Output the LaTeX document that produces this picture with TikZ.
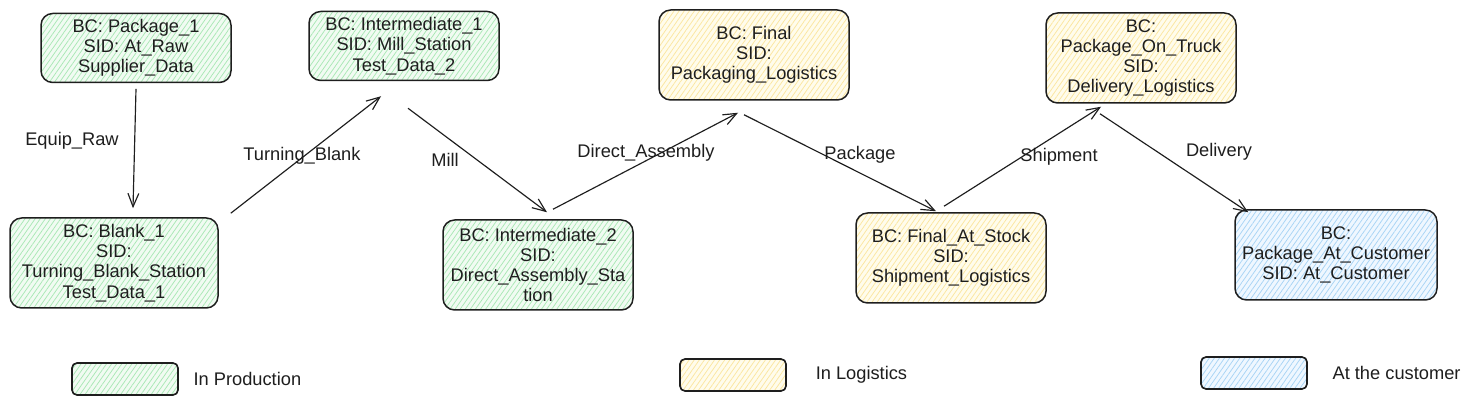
\documentclass[tikz,border=0pt]{standalone}
\usepackage{fontspec}
\setmainfont{Liberation Sans}
\usetikzlibrary{arrows.meta,patterns.meta,positioning}

\definecolor{ink}{HTML}{1E1E1E}
\definecolor{prodbg}{HTML}{F1FBF2}
\definecolor{prodline}{HTML}{A9E8B5}
\definecolor{logbg}{HTML}{FFFCEC}
\definecolor{logline}{HTML}{FBE6A0}
\definecolor{custbg}{HTML}{EFF7FF}
\definecolor{custline}{HTML}{A8D4F5}

\tikzset{
  stage/.style={draw=ink, line width=0.9bp, rounded corners=7bp, align=center,
    minimum width=114bp, minimum height=54bp, inner sep=2bp, text=ink,
    font=\fontsize{11}{12.2}\selectfont},
  hatch/.style 2 args={preaction={fill=#1},
    pattern={Lines[angle=55,distance=2.5bp,line width=0.45bp]}, pattern color=#2},
  prod/.style={hatch={prodbg}{prodline}},
  logi/.style={hatch={logbg}{logline}},
  cust/.style={hatch={custbg}{custline}},
  key/.style={draw=ink, line width=1bp, rounded corners=3bp,
    minimum width=63.6bp, minimum height=19.2bp},
  lbl/.style={text=ink, inner sep=1bp, font=\fontsize{11}{12.2}\selectfont},
}

\begin{document}
\begin{tikzpicture}[>={Straight Barb[length=8bp,width=6.5bp]},line join=round]
\pgfsetlinewidth{0.7bp}
\pgfsetcolor{ink}
\useasboundingbox (0bp,0bp) rectangle (879bp,244.2bp);

% Node: Package_1
\node[stage, prod, minimum height=41.4bp] (pkg1) at (81.6bp,215.4bp)
  {BC: Package\_1\\SID: At\_Raw\\Supplier\_Data};

% Node: Intermediate_1
\node[stage, prod, minimum height=41.4bp] (inter1) at (242.4bp,216.6bp)
  {BC: Intermediate\_1\\SID: Mill\_Station\\Test\_Data\_2};

% Node: Final
\node[stage, logi] (final) at (452.4bp,211.2bp)
  {BC: Final\\SID:\\Packaging\_Logistics};

% Node: Package_On_Truck
\node[stage, logi] (truck) at (684.6bp,209.4bp)
  {BC:\\Package\_On\_Truck\\SID:\\Delivery\_Logistics};

% Node: Blank_1
\node[stage, prod, minimum width=124.8bp] (blank1) at (68.4bp,86.4bp)
  {BC: Blank\_1\\SID:\\Turning\_Blank\_Station\\Test\_Data\_1};

% Node: Intermediate_2
\node[stage, prod] (inter2) at (322.8bp,85.2bp)
  {BC: Intermediate\_2\\SID:\\Direct\_Assembly\_Sta\\tion};

% Node: Final_At_Stock
\node[stage, logi] (stock) at (570.6bp,89.4bp)
  {BC: Final\_At\_Stock\\SID:\\Shipment\_Logistics};

% Node: Package_At_Customer
\node[stage, cust, minimum width=121.2bp] (atcust) at (801.6bp,91.2bp)
  {BC:\\Package\_At\_Customer\\SID: At\_Customer};

% Edge: Package_1 -> Blank_1
\draw[->] ([yshift=-3.6bp]pkg1.south) -- ([xshift=11.4bp,yshift=5.4bp]blank1.north);
\node[lbl] (lraw) at (43.2bp,159.6bp) {Equip\_Raw};

% Edge: Blank_1 -> Intermediate_1
\draw[->] ([xshift=7.2bp,yshift=2.4bp]blank1.north east) -- ([xshift=-13.8bp,yshift=-9bp]inter1.south);
\node[lbl] (lturn) at (181.2bp,150.6bp) {Turning\_Blank};

% Edge: Intermediate_1 -> Intermediate_2
\draw[->] ([xshift=2.4bp,yshift=-16.2bp]inter1.south) -- ([xshift=5.4bp,yshift=4.2bp]inter2.north);
\node[lbl] (lmill) at (267bp,148.2bp) {Mill};

% Edge: Intermediate_2 -> Final
\draw[->] ([xshift=9bp,yshift=6bp]inter2.north) -- ([xshift=-9.6bp,yshift=-7.2bp]final.south);
\node[lbl] (ldirect) at (387.6bp,152.4bp) {Direct\_Assembly};

% Edge: Final -> Final_At_Stock
\draw[->] ([xshift=-6bp,yshift=-8.4bp]final.south) -- ([xshift=-9bp,yshift=0.6bp]stock.north);
\node[lbl] (lpack) at (516bp,151.2bp) {Package};

% Edge: Final_At_Stock -> Package_On_Truck
\draw[->] ([xshift=-4.2bp,yshift=3.6bp]stock.north) -- ([xshift=-24bp,yshift=-1.8bp]truck.south);
\node[lbl] (lship) at (635.4bp,150bp) {Shipment};

% Edge: Package_On_Truck -> Package_At_Customer
\draw[->] ([xshift=-24.6bp,yshift=-6bp]truck.south) -- ([xshift=8.4bp,yshift=-1.8bp]atcust.north west);
\node[lbl] (ldeliv) at (731.4bp,153bp) {Delivery};

% Legend
\node[key, prod] (keyprod) at (75bp,16.8bp) {};
\node[lbl, right=7.5bp of keyprod] (tprod) {In Production};
\node[key, logi] (keylog) at (439.8bp,19.2bp) {};
\node[lbl, right=16bp of keylog] (tlog) {In Logistics};
\node[key, cust] (keycust) at (752.4bp,20.4bp) {};
\node[lbl, right=13.5bp of keycust] (tcust) {At the customer};
%
\end{tikzpicture}
\end{document}
